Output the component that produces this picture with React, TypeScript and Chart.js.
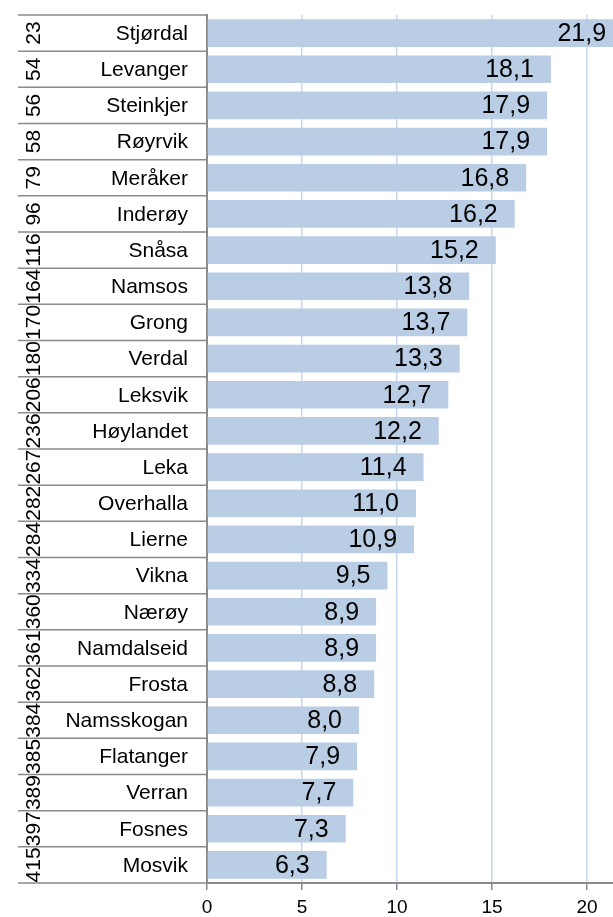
import React, { useEffect, useRef } from "react";
import { Chart, registerables } from "chart.js";

Chart.register(...registerables);

const NAMES = [
  "Stjørdal", "Levanger", "Steinkjer", "Røyrvik", "Meråker", "Inderøy", "Snåsa", "Namsos",
  "Grong", "Verdal", "Leksvik", "Høylandet", "Leka", "Overhalla", "Lierne", "Vikna",
  "Nærøy", "Namdalseid", "Frosta", "Namsskogan", "Flatanger", "Verran", "Fosnes", "Mosvik",
];
const RANKS = [23, 54, 56, 58, 79, 96, 116, 164, 170, 180, 206, 236, 267, 282, 284, 334, 360, 361, 362, 384, 385, 389, 397, 415];
const VALUES = [21.9, 18.1, 17.9, 17.9, 16.8, 16.2, 15.2, 13.8, 13.7, 13.3, 12.7, 12.2, 11.4, 11.0, 10.9, 9.5, 8.9, 8.9, 8.8, 8.0, 7.9, 7.7, 7.3, 6.3];
const X_TICKS = [0, 5, 10, 15, 20];

const FONT = '"Liberation Sans", Arial, Helvetica, sans-serif';
const LINE_GRAY = "#8a8a8a";

const tablePlugin = {
  id: "tablePlugin",
  afterDraw(chart: any) {
    const ctx = chart.ctx;
    const ys = chart.scales.y;
    const left = chart.chartArea.left;
    ctx.save();
    ctx.strokeStyle = LINE_GRAY;
    ctx.lineWidth = 1.5;
    for (let i = 0; i <= NAMES.length; i++) {
      const py = ys.getPixelForValue(i - 0.5);
      ctx.beginPath();
      ctx.moveTo(18, py);
      ctx.lineTo(left, py);
      ctx.stroke();
    }
    ctx.fillStyle = "#000";
    ctx.font = `21px ${FONT}`;
    ctx.textAlign = "right";
    ctx.textBaseline = "middle";
    NAMES.forEach((n, i) => {
      ctx.fillText(n, left - 19, ys.getPixelForValue(i) + 1);
    });
    ctx.textAlign = "center";
    ctx.font = `21px ${FONT}`;
    RANKS.forEach((r, i) => {
      const py = ys.getPixelForValue(i);
      ctx.save();
      ctx.translate(33, py);
      ctx.rotate(-Math.PI / 2);
      ctx.fillText(String(r), 0, 1);
      ctx.restore();
    });
    ctx.restore();
  },
  afterDatasetsDraw(chart: any) {
    const ctx = chart.ctx;
    const meta = chart.getDatasetMeta(0);
    ctx.save();
    ctx.fillStyle = "#000";
    ctx.font = `25px ${FONT}`;
    ctx.textAlign = "right";
    ctx.textBaseline = "middle";
    meta.data.forEach((el: any, i: number) => {
      const label = VALUES[i].toFixed(1).replace(".", ",");
      ctx.fillText(label, el.x - 17, el.y + 1);
    });
    ctx.restore();
  },
};

export default function App() {
  const ref = useRef<HTMLCanvasElement>(null);
  useEffect(() => {
    if (!ref.current) return;
    const chart = new Chart(ref.current, {
      type: "bar",
      data: {
        labels: NAMES,
        datasets: [
          {
            data: VALUES,
            backgroundColor: "#b9cde5",
            borderWidth: 0,
            barPercentage: 0.765,
            categoryPercentage: 1,
          },
        ],
      },
      options: {
        indexAxis: "y",
        responsive: false,
        animation: false,
        layout: { padding: { top: 15, left: 0, right: 0, bottom: 0 } },
        plugins: { legend: { display: false }, tooltip: { enabled: false } },
        scales: {
          x: {
            type: "linear",
            position: "bottom",
            min: 0,
            max: 21.37,
            afterFit: (s: any) => {
              s.height = 34;
            },
            afterBuildTicks: (s: any) => {
              s.ticks = X_TICKS.map((v) => ({ value: v }));
            },
            grid: {
              color: "#c5d7ec",
              lineWidth: 1.5,
              tickColor: LINE_GRAY,
              tickLength: 7,
              drawTicks: true,
            },
            border: { display: true, color: LINE_GRAY, width: 2 },
            ticks: {
              font: { family: FONT, size: 19 },
              color: "#000",
              padding: 6,
              maxRotation: 0,
            },
          },
          y: {
            type: "category",
            position: "left",
            afterFit: (s: any) => {
              s.width = 207;
            },
            grid: { display: false, drawTicks: false },
            border: { display: true, color: LINE_GRAY, width: 2 },
            ticks: { display: false },
          },
        },
      },
      plugins: [tablePlugin],
    } as any);
    return () => chart.destroy();
  }, []);
  return (
    <div style={{ position: "fixed", left: 0, top: 0, width: 613, height: 917 }}>
      <canvas ref={ref} width={613} height={917} style={{ display: "block", width: 613, height: 917 }} />
    </div>
  );
}
